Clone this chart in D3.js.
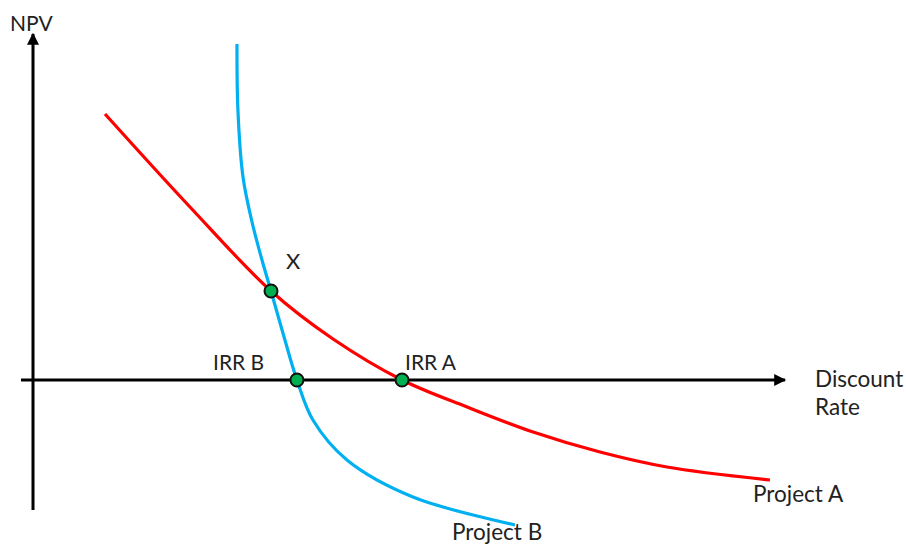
<!DOCTYPE html>
<html><head><meta charset="utf-8">
<script src="https://cdn.jsdelivr.net/npm/d3@7"></script>
<style>body{margin:0;background:#fff}svg{display:block}text{font-family:Lato,"Open Sans",sans-serif;fill:#222}</style>
</head><body>
<script>
const rateA = [3.83, 8.35, 12.66, 15.96, 19.63, 23.09, 26.6, 30.16, 33.72, 39.2];
const npvA  = [266, 173, 89, 41, 0, -27, -52, -72, -87, -100];
const rateB = [10.85, 10.9, 11.17, 11.65, 12.18, 12.66, 13.4, 14.04, 14.89, 16.7, 20.21, 25.64];
const npvB  = [336, 270, 203, 158, 120, 89, 40, 0, -40, -80, -117, -145];
const markerRates = [12.66, 14.04, 19.63];
const markerNpv   = [89, 0, 0];
const pointLabels = ["X", "IRR B", "IRR A"];
const seriesLabels = ["Project A", "Project B"];
const axisLabels = ["NPV", "Discount", "Rate"];

const W = 906, H = 544;
const svg = d3.select("body").append("svg").attr("width", W).attr("height", H);
const x = d3.scaleLinear().domain([0, 40]).range([33, 785]);
const y = d3.scaleLinear().domain([-150, 350]).range([530, 30]);

const defs = svg.append("defs");
defs.append("marker").attr("id","arr").attr("viewBox","0 0 10 10").attr("refX",9).attr("refY",5)
  .attr("markerWidth",4.5).attr("markerHeight",4).attr("orient","auto").attr("markerUnits","strokeWidth")
  .append("path").attr("d","M0,0 L10,5 L0,10 Z").attr("fill","#000");

// axes
svg.append("line").attr("x1", x(-0.64)).attr("x2", x(40)).attr("y1", y(0)).attr("y2", y(0))
  .attr("stroke","#000").attr("stroke-width",3).attr("marker-end","url(#arr)");
svg.append("line").attr("x1", x(0)).attr("x2", x(0)).attr("y1", y(-130)).attr("y2", y(346))
  .attr("stroke","#000").attr("stroke-width",3).attr("marker-end","url(#arr)");

const line = d3.line().x(d => x(d[0])).y(d => y(d[1])).curve(d3.curveCatmullRom.alpha(0.5));
svg.append("path").attr("d", line(rateA.map((r,i)=>[r,npvA[i]])))
  .attr("fill","none").attr("stroke","#FF0000").attr("stroke-width",3.2);
svg.append("path").attr("d", line(rateB.map((r,i)=>[r,npvB[i]])))
  .attr("fill","none").attr("stroke","#00B0F0").attr("stroke-width",3.2);

svg.selectAll("circle.m").data(markerRates).join("circle").attr("class","m")
  .attr("cx", d => x(d)).attr("cy", (d,i) => y(markerNpv[i])).attr("r", 6.5)
  .attr("fill","#00B050").attr("stroke","#111").attr("stroke-width",2);

function txt(t, px, py, size){ svg.append("text").attr("x",px).attr("y",py).attr("font-size",size).text(t); }
txt(axisLabels[0], 10, 31, 21);
txt(axisLabels[1], 815, 387, 22.5);
txt(axisLabels[2], 815, 415, 22.5);
txt(pointLabels[0], 286, 269, 22);
txt(pointLabels[1], 213, 370, 21);
txt(pointLabels[2], 405, 370, 21);
txt(seriesLabels[0], 753, 502, 22.5);
txt(seriesLabels[1], 452, 540, 22.5);
</script>
</body></html>
